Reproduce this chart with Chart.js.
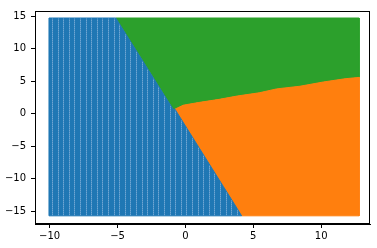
<!DOCTYPE html>
<html>
<head>
<meta charset="utf-8">
<script src="https://cdn.jsdelivr.net/npm/chart.js@4"></script>
<style>
  html, body { margin: 0; padding: 0; background: #fff; }
  #wrap { width: 377px; height: 248px; }
</style>
</head>
<body>
<div id="wrap"><canvas id="c" width="377" height="248"></canvas></div>
<script>
// Extent of the grid of classified points
const gridX = [-10.05, 12.8];
const gridY = [-15.7, 14.75];

// Boundary between class 0 (blue) and class 2 (green), top to apex
const blueGreenX = [-5.13, -4.3, -3.4, -2.5, -1.6, -0.9, -0.77];
const blueGreenY = [14.75, 12.0, 9.0, 6.0, 3.0, 0.7, 0.72];

// Boundary between class 0 (blue) and class 1 (orange), apex to bottom
const blueOrangeX = [-0.77, 0.1, 1.0, 1.9, 2.8, 3.7, 4.14];
const blueOrangeY = [0.72, -2.2, -5.2, -8.2, -11.2, -14.2, -15.7];

// Boundary between class 1 (orange) and class 2 (green), apex to right edge
const greenOrangeX = [-0.77, -0.16, 0.94, 2.49, 3.82, 5.44, 6.73, 8.44, 10.16, 11.76, 12.8];
const greenOrangeY = [0.72, 1.33, 1.73, 2.23, 2.74, 3.24, 3.84, 4.25, 4.90, 5.40, 5.61];

// Axis ticks
const xTicks = [-10, -5, 0, 5, 10];
const yTicks = [-15, -10, -5, 0, 5, 10, 15];

function pts(xs, ys) { return xs.map((x, i) => ({ x: x, y: ys[i] })); }
function rev(a) { return a.slice().reverse(); }

const blueGreen = pts(blueGreenX, blueGreenY);
const blueOrange = pts(blueOrangeX, blueOrangeY);
const greenOrange = pts(greenOrangeX, greenOrangeY);

const bluePoly = [
  { x: gridX[0], y: gridY[0] },
  { x: gridX[0], y: gridY[1] },
  ...blueGreen,
  ...blueOrange.slice(1),
  { x: gridX[0], y: gridY[0] }
];
const orangePoly = [
  ...greenOrange,
  { x: gridX[1], y: gridY[0] },
  ...rev(blueOrange),
];
const greenPoly = [
  { x: gridX[1], y: gridY[1] },
  ...rev(greenOrange),
  ...rev(blueGreen).slice(1),
  { x: gridX[1], y: gridY[1] }
];

// striped texture for the blue marker field (visual style only)
function stripePattern(base, light) {
  const p = document.createElement('canvas');
  p.width = 28; p.height = 2;
  const g = p.getContext('2d');
  g.fillStyle = base; g.fillRect(0, 0, 28, 2);
  g.fillStyle = light;
  [2, 7, 13, 18, 24].forEach(c => g.fillRect(c, 0, 1, 1));
  g.fillStyle = '#4d91c6';
  [2, 7, 13, 18, 24].forEach(c => g.fillRect(c, 1, 1, 1));
  return document.getElementById('c').getContext('2d').createPattern(p, 'repeat');
}

function ds(data, fillStyle, color) {
  return {
    data: data,
    showLine: true,
    fill: 'shape',
    backgroundColor: fillStyle,
    borderColor: color,
    borderWidth: 1,
    pointRadius: 0,
    tension: 0
  };
}

const frame = {
  id: 'frame',
  afterDraw(chart) {
    const { ctx, chartArea: a } = chart;
    ctx.save();
    ctx.strokeStyle = '#000';
    ctx.lineWidth = 1;
    ctx.strokeRect(Math.round(a.left) + 0.5, Math.round(a.top) + 0.5,
      Math.round(a.right - a.left) - 1, Math.round(a.bottom - a.top) - 1);
    ctx.restore();
  }
};

const fmt = v => (v < 0 ? '\u2212' + Math.abs(v) : String(v));

new Chart(document.getElementById('c'), {
  type: 'scatter',
  data: {
    datasets: [
      ds(bluePoly, stripePattern('#1f77b4', '#6fa6d2'), '#1f77b4'),
      ds(orangePoly, '#ff7f0e', '#ff7f0e'),
      ds(greenPoly, '#2ca02c', '#2ca02c')
    ]
  },
  options: {
    responsive: false,
    animation: false,
    devicePixelRatio: 1,
    layout: { padding: { top: 6, right: 7, left: 0, bottom: 0 } },
    plugins: { legend: { display: false }, tooltip: { enabled: false } },
    scales: {
      x: {
        type: 'linear',
        min: -11.08,
        max: 13.6,
        afterBuildTicks: s => { s.ticks = xTicks.map(v => ({ value: v })); },
        afterFit: s => { s.height = 24; },
        grid: { drawOnChartArea: false, drawTicks: true, tickLength: 4, color: '#000' },
        border: { display: true, color: '#000', width: 1 },
        ticks: { color: '#000', font: { family: 'DejaVu Sans', size: 10 }, padding: 2, callback: fmt, maxRotation: 0 }
      },
      y: {
        type: 'linear',
        min: -16.96,
        max: 15.83,
        afterBuildTicks: s => { s.ticks = yTicks.map(v => ({ value: v })); },
        afterFit: s => { s.width = 35; },
        grid: { drawOnChartArea: false, drawTicks: true, tickLength: 4, color: '#000' },
        border: { display: true, color: '#000', width: 1 },
        ticks: { color: '#000', font: { family: 'DejaVu Sans', size: 10 }, padding: 5, callback: fmt }
      }
    }
  },
  plugins: [frame]
});
</script>
</body>
</html>
